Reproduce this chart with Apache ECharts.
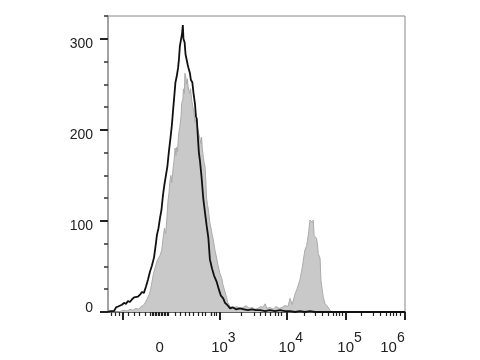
<!DOCTYPE html>
<html>
<head>
<meta charset="utf-8">
<script src="https://cdn.jsdelivr.net/npm/echarts@6/dist/echarts.min.js"></script>
<style>html,body{margin:0;padding:0;background:#fff;}#chart{width:480px;height:360px;}</style>
</head>
<body>
<div id="chart"></div>
<script>
// Channel scale: 0..1000 across the axis (biexponential display units)
const blackX = [0,7,13,20,27,34,40,47,54,61,67,74,81,88,94,101,108,114,121,128,135,141,148,155,160,165,170,175,180,185,190,195,200,205,210,215,220,224,227,231,236,239,242,246,249,252,254,258,261,264,268,271,276,279,284,288,293,296,299,303,306,310,315,321,327,332,338,343,350,357,366,374,380,388,394,401,411,421,431,444,458,471,485,498,512,529,545,562,579,596,613,630,646,663,680,697,714,1000];
const blackY = [0,1,2,1,5,6,4,8,10,9,12,11,14,16,14,17,19,22,21,28,36,44,51,60,72,85,92,103,112,128,140,150,160,176,190,205,225,240,252,258,268,278,292,290,305,315,300,296,283,284,272,268,262,255,252,240,228,215,212,190,175,165,148,124,108,95,81,58,48,40,33,24,18,15,10,8,4,5,3,4,3,2,3,2,2,1,2,1,2,1,1,0,1,0,1,0,0,0];
const grayX = [0,34,44,54,64,74,84,94,104,111,118,125,131,138,143,148,153,158,164,168,175,181,185,190,194,198,202,205,209,212,215,220,222,226,229,231,234,237,240,242,246,248,252,254,257,259,262,264,267,270,274,278,282,286,290,293,296,300,303,306,310,313,315,318,321,323,327,330,332,335,338,343,349,354,360,366,370,377,383,387,394,400,404,411,417,424,434,444,455,465,475,485,495,505,515,522,529,535,545,556,566,576,586,596,606,613,620,630,636,641,646,652,656,660,663,669,675,680,683,686,689,691,694,698,702,705,708,711,714,717,721,725,731,736,742,747,754,1000];
const grayY = [0,0,1,2,1,3,2,4,3,6,7,10,14,19,24,33,42,40,55,58,62,68,80,92,86,101,122,130,145,150,142,160,165,180,172,181,176,192,200,203,215,229,233,245,240,262,258,250,256,247,240,245,232,225,218,208,212,205,200,195,190,185,192,178,170,165,159,140,125,118,112,98,88,80,68,59,52,42,37,30,22,15,10,6,4,5,6,4,5,7,4,5,3,4,6,5,9,4,5,3,6,4,5,7,6,15,8,20,25,27,35,45,53,62,68,73,86,101,100,101,98,101,84,86,81,75,64,62,59,35,25,16,9,7,5,2,0,0];

const xLabelValues = [174, 375, 602, 800, 1000];
const xLabelBase = ['0', '10', '10', '10', '10'];
const xLabelSup = ['', '3', '4', '5', '6'];
const xMajorTicks = [50, 375, 602, 800, 1000];
const xMinorTicks = [11,26,37,68,87,104,124,143,148,153,158,163,168,173,178,183,188,193,198,203,228,242,259,273,287,303,317,329,346,349,357,364,450,492,512,529,546,562,573,585,660,697,720,742,757,768,779,790,854,893,916,936,950,960,972,983];
const yLabelValues = [0, 100, 200, 300];
const yMinorTicks = [25,50,75,125,150,175,225,250,275,325];

const FONT = 'Liberation Sans, Arial, Helvetica, sans-serif';
const chart = echarts.init(document.getElementById('chart'), null, {renderer: 'canvas'});
const gridPos = {left: 108, right: 75, top: 16, bottom: 48};

function xFmt(v) {
  let i = -1;
  for (let k = 0; k < xLabelValues.length; k++) if (Math.abs(xLabelValues[k] - v) < 0.5) i = k;
  if (i < 0) return '';
  if (xLabelSup[i] === '') return '{z|' + xLabelBase[i] + '}';
  if (i === xLabelValues.length - 1) return '{b|' + xLabelBase[i] + '}{sup|' + xLabelSup[i] + '}{tr|}';
  return '{sp|}{b|' + xLabelBase[i] + '}{sup|' + xLabelSup[i] + '}';
}

chart.setOption({
  animation: false,
  backgroundColor: '#fff',
  grid: [
    Object.assign({show: true, borderColor: '#888', borderWidth: 1, backgroundColor: 'transparent'}, gridPos),
    Object.assign({show: false}, gridPos)
  ],
  xAxis: [{
    type: 'value', gridIndex: 0, min: 0, max: 1000, position: 'bottom',
    axisLine: {show: true, onZero: false, lineStyle: {color: '#444', width: 1.5}},
    axisTick: {show: true, length: 8, lineStyle: {color: '#222', width: 2}, customValues: xMajorTicks},
    axisLabel: {
      show: true, customValues: xLabelValues, margin: 19, formatter: xFmt,
      rich: {
        z: {fontSize: 15, fontFamily: FONT, color: '#222', padding: [9, 0, 0, 0]},
        b: {fontSize: 15, fontFamily: FONT, color: '#222', verticalAlign: 'bottom'},
        sup: {fontSize: 14, fontFamily: FONT, color: '#222', verticalAlign: 'top', padding: [0, 0, 10, 0]},
        sp: {width: 8, height: 1},
        tr: {width: 25, height: 1}
      }
    },
    splitLine: {show: false}
  }, {
    type: 'value', gridIndex: 1, min: 0, max: 1000, position: 'bottom',
    axisLine: {show: false},
    axisTick: {show: true, length: 4, lineStyle: {color: '#222', width: 1.2}, customValues: xMinorTicks},
    axisLabel: {show: false},
    splitLine: {show: false}
  }],
  yAxis: [{
    type: 'value', gridIndex: 0, min: 0, max: 325, position: 'left',
    axisLine: {show: true, onZero: false, lineStyle: {color: '#999', width: 1.5}},
    axisTick: {show: true, length: 8, lineStyle: {color: '#222', width: 2}, customValues: yLabelValues},
    axisLabel: {
      show: true, customValues: yLabelValues, margin: 15,
      formatter: function (v) { return v === 0 ? '{z|0}' : '{n|' + v + '}'; },
      rich: {
        z: {fontSize: 14, fontFamily: FONT, color: '#222', padding: [0, 0, 8, 0]},
        n: {fontSize: 14, fontFamily: FONT, color: '#222', padding: [10, 0, 0, 0]}
      }
    },
    splitLine: {show: false}
  }, {
    type: 'value', gridIndex: 1, min: 0, max: 325, position: 'left',
    axisLine: {show: false},
    axisTick: {show: true, length: 4, lineStyle: {color: '#333', width: 1.5}, customValues: yMinorTicks},
    axisLabel: {show: false},
    splitLine: {show: false}
  }],
  series: [{
    type: 'line', xAxisIndex: 0, yAxisIndex: 0,
    data: grayX.map((x, i) => [x, grayY[i]]),
    symbol: 'none', z: 2,
    lineStyle: {color: '#ababab', width: 1},
    areaStyle: {color: '#c9c9c9', opacity: 1}
  }, {
    type: 'line', xAxisIndex: 0, yAxisIndex: 0,
    data: blackX.map((x, i) => [x, blackY[i]]),
    symbol: 'none', z: 3,
    lineStyle: {color: '#111', width: 1.8}
  }]
});
</script>
</body>
</html>
